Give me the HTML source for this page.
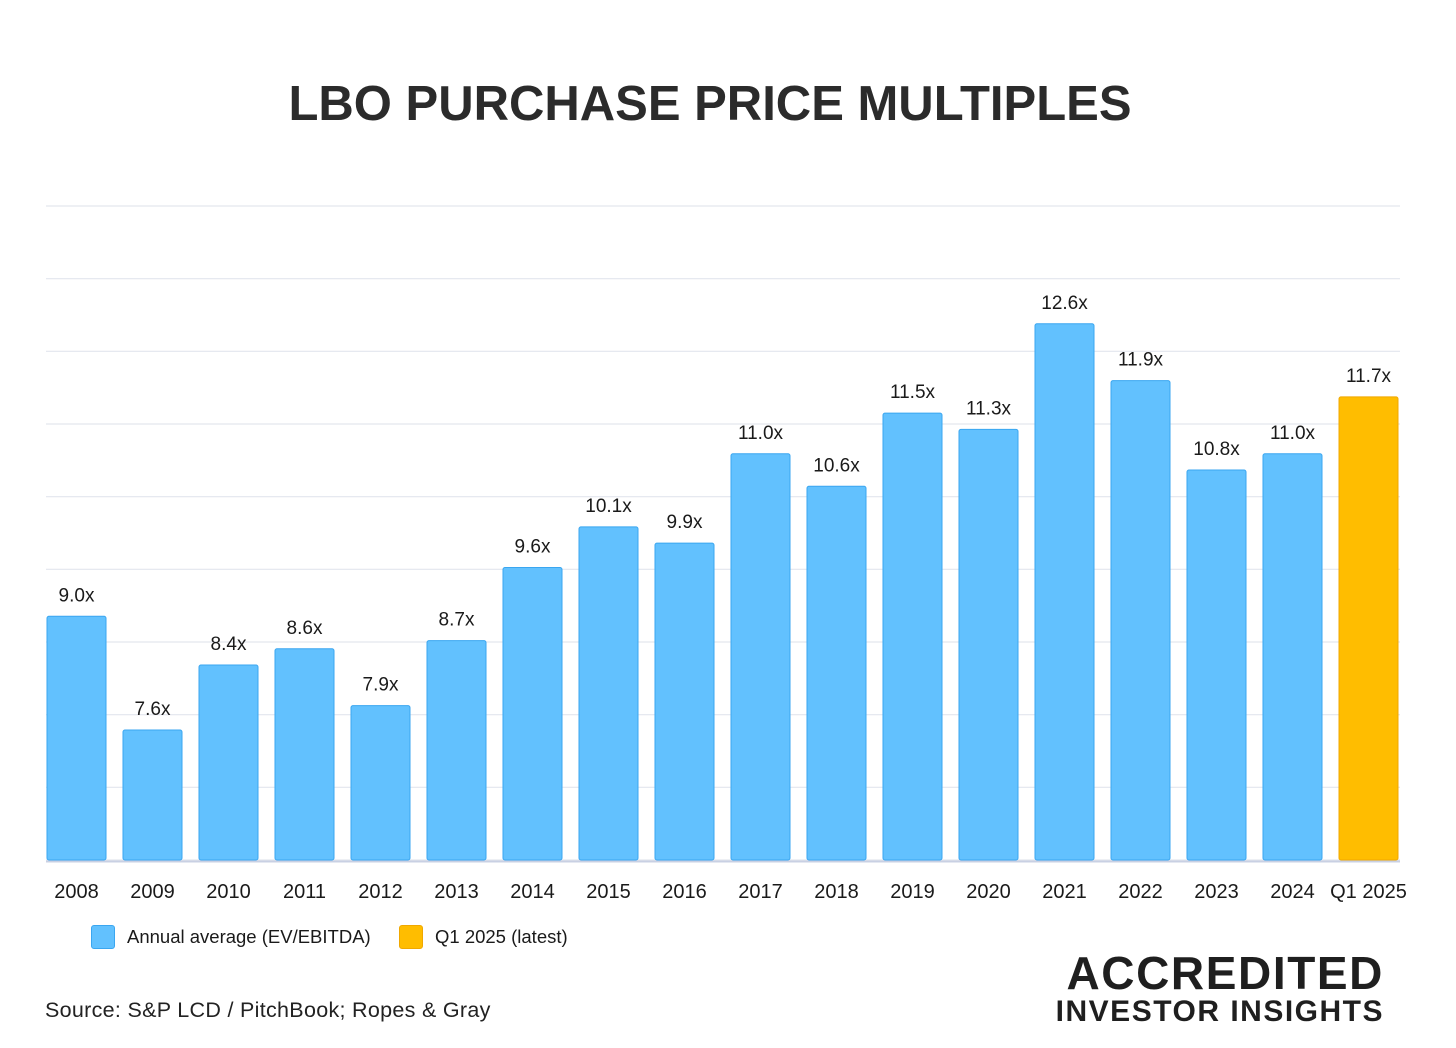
<!DOCTYPE html>
<html><head><meta charset="utf-8"><style>
html,body{margin:0;padding:0;background:#fff;width:1456px;height:1048px;overflow:hidden;font-family:"Liberation Sans",sans-serif;color:#1a1a1a}
.title{position:absolute;left:0;width:1420px;top:76px;text-align:center;font-size:49px;font-weight:bold;color:#2b2b2b;letter-spacing:0px}
.legend{position:absolute;top:925px;font-size:18.5px;display:flex;align-items:center}
.sw{width:22px;height:22px;border-radius:3px;margin-right:12px}
.source{position:absolute;left:45px;top:998px;font-size:21.5px;color:#222;letter-spacing:0.3px}
.brand{position:absolute;right:72px;top:950px;text-align:right;font-weight:bold;color:#1f1f1f;line-height:1}
</style></head><body>
<div class="title">LBO PURCHASE PRICE MULTIPLES</div>
<svg id="chart" width="1456" height="1048" style="position:absolute;left:0;top:0"></svg>
<div class="legend" style="left:91px"><div class="sw" style="background:#62c1fe;border:1px solid #3aa6f0"></div>Annual average (EV/EBITDA)</div>
<div class="legend" style="left:399px"><div class="sw" style="background:#ffbd00;border:1px solid #f0a800"></div>Q1 2025 (latest)</div>
<div class="source">Source: S&amp;P LCD / PitchBook; Ropes &amp; Gray</div>
<div class="brand"><div style="font-size:46px;letter-spacing:1.6px">ACCREDITED</div><div style="font-size:30px;margin-top:1px;letter-spacing:1.5px">INVESTOR INSIGHTS</div></div>
<script>
const categories=["2008","2009","2010","2011","2012","2013","2014","2015","2016","2017","2018","2019","2020","2021","2022","2023","2024","Q1 2025"];
const values=[9.0,7.6,8.4,8.6,7.9,8.7,9.6,10.1,9.9,11.0,10.6,11.5,11.3,12.6,11.9,10.8,11.0,11.7];
const highlight=[false,false,false,false,false,false,false,false,false,false,false,false,false,false,false,false,false,true];
const yMin=6,yMax=14.05,gridCount=9;
const svg=document.getElementById('chart');
const NS='http://www.w3.org/2000/svg';
const plotL=46,plotR=1400,plotT=206,plotB=860;
const barL=47,barR=1398,bw=59;
const yS=v=>plotB-(v-yMin)/(yMax-yMin)*(plotB-plotT);
const step=(barR-barL-bw)/(categories.length-1);
const xS=i=>barL+i*step;
function mk(t,a){const e=document.createElementNS(NS,t);for(const k in a)e.setAttribute(k,a[k]);svg.appendChild(e);return e;}
for(let g=0;g<=gridCount;g++){
 const gy=plotT+g*(plotB-plotT)/gridCount;
 const l=mk('line',{x1:plotL,x2:plotR,y1:gy,y2:gy,stroke:'#e3e6ee','stroke-width':1.2});
 
 
}
const base=mk('line',{x1:plotL,x2:plotR,y1:plotB+1.5,y2:plotB+1.5,stroke:'#c9d0e3','stroke-width':2});


categories.forEach((c,i)=>{
 const bx=xS(i), by=yS(values[i]);
 const r=mk('rect',{x:bx,y:by,width:bw,height:plotB-by,rx:2,fill:highlight[i]?'#ffbd00':'#62c1fe',stroke:highlight[i]?'#f0a800':'#3aa6f0','stroke-width':1});
 
 
 const t=mk('text',{x:bx+bw/2,y:by-15,'text-anchor':'middle','font-size':19,'font-family':'Liberation Sans, sans-serif',fill:'#1a1a1a'});
 t.textContent=values[i].toFixed(1)+'x';
 
 
 const xl=mk('text',{x:bx+bw/2,y:898,'text-anchor':'middle','font-size':20,'font-family':'Liberation Sans, sans-serif',fill:'#1a1a1a'});
 xl.textContent=c;
 
 
});
</script>
</body></html>
